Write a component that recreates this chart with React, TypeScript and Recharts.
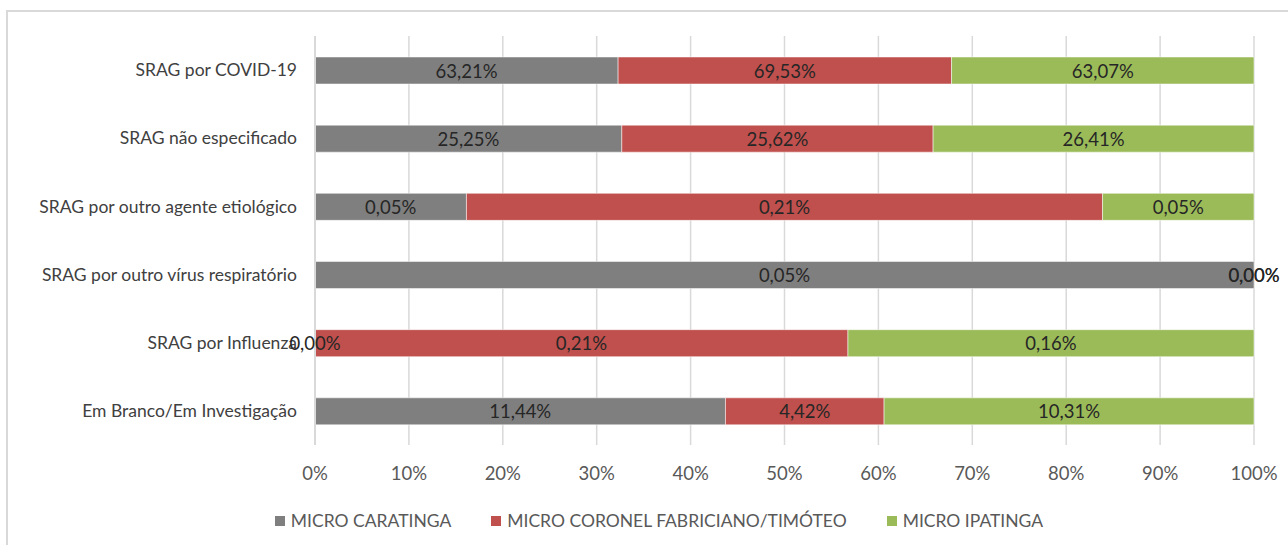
import React from 'react';
import { BarChart, Bar, XAxis, YAxis, CartesianGrid, LabelList, Legend } from 'recharts';

const categories = [
  'SRAG por COVID-19',
  'SRAG não especificado',
  'SRAG por outro agente etiológico',
  'SRAG por outro vírus respiratório',
  'SRAG por Influenza',
  'Em Branco/Em Investigação',
];
const caratinga = [63.21, 25.25, 0.05, 0.05, 0.0, 11.44];
const coronel = [69.53, 25.62, 0.21, 0.0, 0.21, 4.42];
const ipatinga = [63.07, 26.41, 0.05, 0.0, 0.16, 10.31];
const xTicks = [0, 0.1, 0.2, 0.3, 0.4, 0.5, 0.6, 0.7, 0.8, 0.9, 1];

const seriesNames = ['MICRO CARATINGA', 'MICRO CORONEL FABRICIANO/TIMÓTEO', 'MICRO IPATINGA'];
const seriesKeys = ['car', 'cor', 'ipa'];
const colors = ['#7f7f7f', '#c0504d', '#9bbb59'];

const data = categories.map((name, i) => ({
  name,
  car: caratinga[i],
  cor: coronel[i],
  ipa: ipatinga[i],
}));

const FONT = 'Lato, "Open Sans", sans-serif';
const NUM_SIZE = 18.5;
const TXT_SIZE = 17.5;

const fmt = (v: any) => `${Number(v).toFixed(2).replace('.', ',')}%`;

const makeLabel = (si: number) => (props: any) => {
  const { x, y, width, height, value } = props;
  const row: any = data.find((d) => d.name === value);
  if (!row) return null;
  const own = row[seriesKeys[si]];
  const cy = Number(y) + Number(height) / 2;
  const out: React.ReactNode[] = [];
  const textProps = {
    fill: '#262626',
    fontSize: NUM_SIZE,
    fontFamily: FONT,
    textAnchor: 'middle' as const,
    dominantBaseline: 'central' as const,
  };
  if (own > 0) {
    out.push(
      <text key="own" x={Number(x) + Number(width) / 2} y={cy} {...textProps}>
        {fmt(own)}
      </text>
    );
    // zero series directly to the right, drawn at this bar's right end
    for (let j = si + 1; j < seriesKeys.length; j++) {
      if (row[seriesKeys[j]] > 0) break;
      out.push(
        <text key={`r${j}`} x={Number(x) + Number(width)} y={cy} {...textProps}>
          {fmt(row[seriesKeys[j]])}
        </text>
      );
    }
    // zero series to the left when nothing non-zero precedes this bar
    let allZeroLeft = true;
    for (let j = 0; j < si; j++) if (row[seriesKeys[j]] > 0) allZeroLeft = false;
    if (allZeroLeft) {
      for (let j = 0; j < si; j++) {
        out.push(
          <text key={`l${j}`} x={Number(x)} y={cy} {...textProps}>
            {fmt(row[seriesKeys[j]])}
          </text>
        );
      }
    }
  }
  return <g>{out}</g>;
};

const renderLegend = () => (
  <div
    style={{
      display: 'flex',
      justifyContent: 'center',
      fontFamily: FONT,
      fontSize: TXT_SIZE,
      color: '#595959',
      paddingLeft: 64,
    }}
  >
    {seriesNames.map((n, i) => (
      <div key={n} style={{ display: 'flex', alignItems: 'center', marginRight: i < 2 ? 40 : 0 }}>
        <span style={{ width: 10, height: 10, background: colors[i], display: 'inline-block', marginRight: 6 }} />
        <span>{n}</span>
      </div>
    ))}
  </div>
);

export default function App() {
  return (
    <div style={{ position: 'absolute', left: 0, top: 0, width: 1288, height: 545, background: '#fff' }}>
      <div
        style={{
          position: 'absolute',
          left: 6,
          top: 10,
          width: 1300,
          height: 560,
          border: '2px solid #d9d9d9',
          boxSizing: 'border-box',
        }}
      />
      <div style={{ position: 'absolute', left: 0, top: 0 }}>
        <BarChart
          width={1288}
          height={545}
          data={data}
          layout="vertical"
          stackOffset="expand"
          margin={{ top: 36, right: 34, bottom: 39, left: 0 }}
          barSize={27}
        >
          <CartesianGrid horizontal={false} stroke="#d9d9d9" strokeWidth={1.5} />
          <XAxis
            type="number"
            domain={[0, 1]}
            ticks={xTicks}
            tickFormatter={(v: number) => `${Math.round(v * 100)}%`}
            axisLine={false}
            tickLine={false}
            tickSize={0}
            tickMargin={22}
            height={40}
            tick={{ fill: '#595959', fontSize: NUM_SIZE, fontFamily: FONT }}
            interval={0}
          />
          <YAxis
            type="category"
            dataKey="name"
            width={315}
            axisLine={{ stroke: '#d9d9d9', strokeWidth: 2 }}
            tickLine={false}
            tickSize={0}
            tickMargin={18}
            tick={{ fill: '#404040', fontSize: TXT_SIZE, fontFamily: FONT }}
            interval={0}
          />
          <Legend verticalAlign="bottom" content={renderLegend} wrapperStyle={{ bottom: 14 }} />
          <Bar dataKey="car" stackId="a" fill={colors[0]} stroke="#fff" strokeWidth={0.5} isAnimationActive={false}>
            <LabelList dataKey="name" content={makeLabel(0)} />
          </Bar>
          <Bar dataKey="cor" stackId="a" fill={colors[1]} stroke="#fff" strokeWidth={0.5} isAnimationActive={false}>
            <LabelList dataKey="name" content={makeLabel(1)} />
          </Bar>
          <Bar dataKey="ipa" stackId="a" fill={colors[2]} stroke="#fff" strokeWidth={0.5} isAnimationActive={false}>
            <LabelList dataKey="name" content={makeLabel(2)} />
          </Bar>
        </BarChart>
      </div>
    </div>
  );
}
